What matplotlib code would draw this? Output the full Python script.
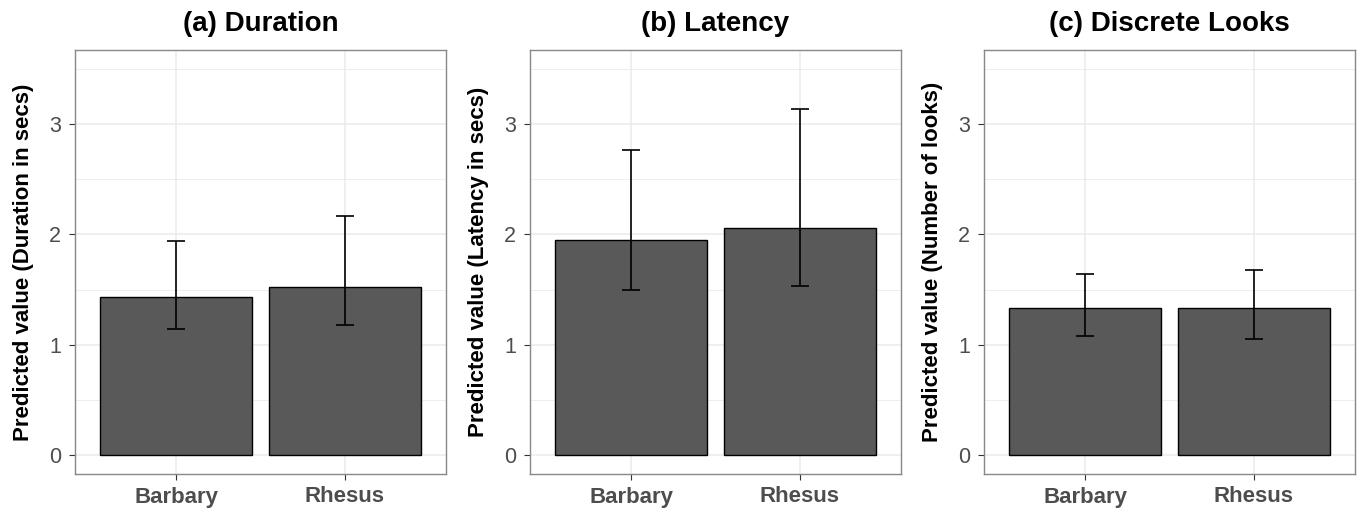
import numpy as np
import matplotlib
matplotlib.use("Agg")
import matplotlib.pyplot as plt

plt.rcParams['font.family'] = ['Liberation Sans', 'DejaVu Sans']

### Data
species = ['Barbary', 'Rhesus']
titles = ['(a) Duration', '(b) Latency', '(c) Discrete Looks']
ylabels = ['Predicted value (Duration in secs)',
           'Predicted value (Latency in secs)',
           'Predicted value (Number of looks)']
duration = [1.43, 1.52]
duration_lo = [1.14, 1.18]
duration_hi = [1.94, 2.17]
latency = [1.95, 2.06]
latency_lo = [1.50, 1.53]
latency_hi = [2.77, 3.14]
looks = [1.335, 1.33]
looks_lo = [1.08, 1.05]
looks_hi = [1.64, 1.68]

panels = [(duration, duration_lo, duration_hi),
          (latency, latency_lo, latency_hi),
          (looks, looks_lo, looks_hi)]

W, H = 1361, 508
fig = plt.figure(figsize=(W/100, H/100), dpi=100)
lefts = [75, 530, 984]
axw, top, bot = 371, 50, 474

for i, (vals, lo, hi) in enumerate(panels):
    ax = fig.add_axes([lefts[i]/W, 1-bot/H, axw/W, (bot-top)/H])
    x = np.arange(1, len(species)+1)
    vals = np.array(vals); lo = np.array(lo); hi = np.array(hi)
    ax.bar(x, vals, width=0.9, color='#595959', edgecolor='black', linewidth=1.0, zorder=3)
    ax.errorbar(x, vals, yerr=[vals-lo, hi-vals], fmt='none', ecolor='black',
                elinewidth=1.2, capsize=6.5, capthick=1.2, zorder=4)
    ax.set_xlim(0.4, 2.6)
    ax.set_ylim(-0.175, 3.675)
    ax.set_xticks(x)
    ax.set_xticklabels(species, fontsize=16, fontweight='bold', color='#4D4D4D')
    ax.set_yticks([0, 1, 2, 3])
    ax.set_yticks([0.5, 1.5, 2.5, 3.5], minor=True)
    ax.tick_params(axis='y', which='major', labelsize=15.5, labelcolor='#4D4D4D',
                   length=4, color='#333333', pad=6)
    ax.tick_params(axis='y', which='minor', length=0)
    ax.tick_params(axis='x', length=4, color='#333333', pad=5)
    ax.grid(True, which='major', color='#EBEBEB', linewidth=1.1, zorder=0)
    ax.grid(True, which='minor', axis='y', color='#EBEBEB', linewidth=0.6, zorder=0)
    ax.set_axisbelow(True)
    for s in ax.spines.values():
        s.set_color('#888888')
        s.set_linewidth(1.0)
    ax.set_title(titles[i], fontsize=20, fontweight='bold', pad=14)
    ax.set_ylabel(ylabels[i], fontsize=16, fontweight='bold', labelpad=11)

fig.savefig('out.png', dpi=100)
